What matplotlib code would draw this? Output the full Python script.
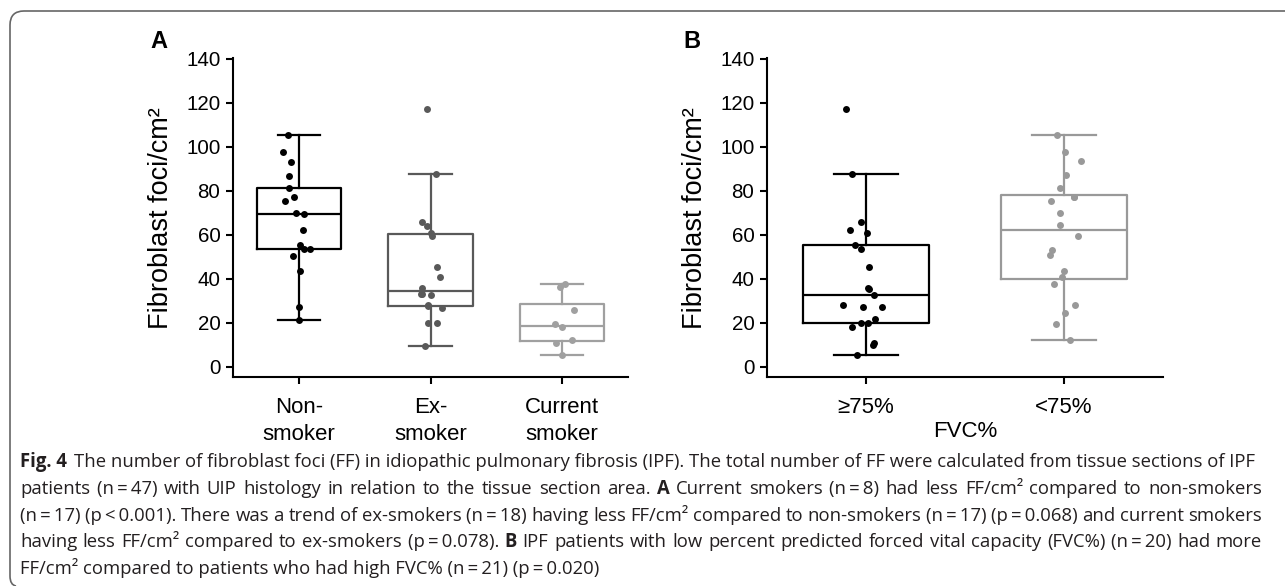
import numpy as np
import matplotlib.pyplot as plt
from matplotlib.path import Path
from matplotlib.patches import PathPatch

plt.rcParams['font.family'] = ['Liberation Sans', 'DejaVu Sans']

W, H = 1285, 586

# panel A: smoking status
smoking_labels = ['Non-\nsmoker', 'Ex-\nsmoker', 'Current\nsmoker']
non_smoker = [105.5, 97.7, 93.3, 87.0, 81.5, 75.6, 77.1, 70.0, 69.7, 62.4,
              55.3, 53.5, 53.8, 50.6, 43.8, 27.4, 21.5]
ex_smoker = [117.1, 87.6, 66.0, 64.2, 60.8, 59.5, 45.3, 40.8, 35.8, 33.0,
             32.6, 28.0, 27.0, 20.0, 20.2, 9.7, 27.5, 33.2]
current_smoker = [37.6, 36.2, 26.0, 19.5, 18.0, 10.9, 12.3, 5.3]

# panel B: FVC%
fvc_labels = ['≥75%', '<75%']
fvc_high = [117.1, 87.6, 66.0, 62.3, 61.0, 55.3, 53.5, 45.5, 36.0, 35.5,
            32.6, 28.0, 27.1, 27.4, 18.2, 20.1, 20.0, 21.7, 10.0, 11.0, 5.3]
fvc_low = [105.6, 97.7, 93.5, 87.1, 81.5, 77.1, 75.6, 69.8, 64.4, 59.7,
           53.2, 50.8, 43.8, 41.0, 37.6, 28.2, 24.7, 19.5, 12.3, 77.3]

# horizontal jitter of the dots
non_smoker_jit = [-0.079, -0.119, -0.056, -0.073, -0.073, -0.104, -0.033, -0.023, 0.038,
                  0.028, 0.008, 0.038, 0.084, -0.048, 0.008, 0.0, 0.0]
ex_smoker_jit = [-0.023, 0.041, -0.061, -0.028, 0.0, 0.01, 0.048, 0.074, -0.066, -0.071,
                 0.005, -0.02, 0.086, -0.02, 0.053, -0.041, -0.018, -0.068]
current_smoker_jit = [0.023, -0.018, 0.091, -0.056, -0.005, -0.048, 0.074, 0.0]
fvc_high_jit = [-0.101, -0.071, -0.024, -0.079, 0.003, -0.054, -0.025, 0.013, 0.008, 0.013,
                0.039, -0.116, -0.017, 0.081, -0.071, -0.025, 0.008, 0.045, 0.035, 0.042, -0.045]
fvc_low_jit = [-0.035, 0.007, 0.087, 0.012, -0.018, 0.049, -0.064, -0.022, -0.018, 0.072,
               -0.062, -0.072, -0.002, -0.012, -0.052, 0.054, 0.003, -0.039, 0.029, 0.049]

caption_lines = [
    [("Fig. 4", True), ("The number of fibroblast foci (FF) in idiopathic pulmonary fibrosis (IPF). "
                        "The total number of FF were calculated from tissue sections of IPF", False)],
    [("patients (n\u2009=\u200947) with UIP histology in relation to the tissue section area.", False),
     ("A", True), ("Current smokers (n\u2009=\u20098) had less FF/cm² compared to non-smokers", False)],
    [("(n\u2009=\u200917) (p\u2009<\u20090.001). There was a trend of ex-smokers (n\u2009=\u200918) having less "
      "FF/cm² compared to non-smokers (n\u2009=\u200917) (p\u2009=\u20090.068) and current smokers", False)],
    [("having less FF/cm² compared to ex-smokers (p\u2009=\u20090.078).", False), ("B", True),
     ("IPF patients with low percent predicted forced vital capacity (FVC%) (n\u2009=\u200920) had more", False)],
    [("FF/cm² compared to patients who had high FVC% (n\u2009=\u200921) (p\u2009=\u20090.020)", False)],
]


def box_panel(ax, groups, jitters, labels, colors):
    pos = np.arange(1, len(groups) + 1)
    bp = ax.boxplot(groups, positions=pos, widths=0.64, showfliers=False,
                    boxprops=dict(linewidth=1.6), medianprops=dict(linewidth=1.6),
                    whiskerprops=dict(linewidth=1.6), capprops=dict(linewidth=1.6))
    for i, c in enumerate(colors):
        bp['boxes'][i].set_color(c)
        bp['medians'][i].set_color(c)
        for k in (2 * i, 2 * i + 1):
            bp['whiskers'][k].set_color(c)
            bp['caps'][k].set_color(c)
        ax.scatter(pos[i] + np.array(jitters[i]), groups[i], s=25, color=c,
                   linewidths=0, zorder=3)
    ax.set_xlim(0.5, len(groups) + 0.5)
    ax.set_ylim(-4.7, 140.3)
    ax.set_yticks(range(0, 141, 20))
    ax.set_xticks(pos)
    ax.set_xticklabels(labels, fontsize=16, linespacing=1.4)
    ax.spines[['top', 'right']].set_visible(False)
    ax.spines[['left', 'bottom']].set_linewidth(1.5)
    ax.tick_params(axis='both', length=5, width=1.5, pad=4)
    ax.tick_params(axis='x', pad=9)
    ax.tick_params(axis='y', labelsize=14.8)
    ax.set_ylabel('Fibroblast foci/cm²', fontsize=19.5, labelpad=9)


fig = plt.figure(figsize=(W / 100, H / 100), dpi=100)
ax_a = fig.add_axes([233 / W, 1 - 377.3 / H, 395 / W, 319 / H])
ax_b = fig.add_axes([767 / W, 1 - 377.3 / H, 396 / W, 319 / H])

box_panel(ax_a, [non_smoker, ex_smoker, current_smoker],
          [non_smoker_jit, ex_smoker_jit, current_smoker_jit],
          smoking_labels, ['black', '#595959', '#a0a0a0'])
box_panel(ax_b, [fvc_high, fvc_low], [fvc_high_jit, fvc_low_jit],
          fvc_labels, ['black', '#999999'])
ax_b.set_xlabel('FVC%', fontsize=16, labelpad=2)

fig.text(150 / W, 1 - 48 / H, 'A', fontsize=17, fontweight='bold')
fig.text(683 / W, 1 - 48 / H, 'B', fontsize=17, fontweight='bold')

# frame around the figure (top and left only, rounded corners)
verts = [(W, 11), (24, 11), (10, 11), (10, 25), (10, 576), (10, 585), (16, 586)]
codes = [Path.MOVETO, Path.LINETO, Path.CURVE3, Path.CURVE3, Path.LINETO, Path.CURVE3, Path.CURVE3]
frame = Path([(x / W, 1 - y / H) for x, y in verts], codes)
fig.add_artist(PathPatch(frame, facecolor='none', edgecolor='#666666', lw=1.2,
                         transform=fig.transFigure))

# caption
cap_font = ['Open Sans', 'DejaVu Sans']
cap_color = '#231f20'
renderer = fig.canvas.get_renderer()
x0, x1 = 20, 1262


def width_of(txt, size, bold=False):
    t = fig.text(0, 2, txt, fontsize=size, family=cap_font,
                 fontweight='bold' if bold else 'normal')
    w = t.get_window_extent(renderer).width
    t.remove()
    return w


# font size from the first line, measured as whole strings
base = 10
gap0 = width_of('x x', base) - width_of('xx', base)
natural = sum(width_of(txt, base, b) for txt, b in caption_lines[0]) + gap0 * 1.6
size = base * (x1 - x0) / natural
sp = width_of('x x', size) - width_of('xx', size)

for k, pieces in enumerate(caption_lines):
    y = 1 - (467 + k * 26.8) / H
    if k in (0, len(caption_lines) - 1):
        # natural spacing
        x = x0
        for txt, bold in pieces:
            t = fig.text(x / W, y, txt, fontsize=size, family=cap_font, color=cap_color,
                         fontweight='bold' if bold else 'normal')
            x += t.get_window_extent(renderer).width + sp * (1.6 if bold else 1)
        continue
    # justified, word by word
    words = [(w, bold) for txt, bold in pieces for w in txt.split(' ')]
    widths = [width_of(w, size, b) for w, b in words]
    gap = (x1 - x0 - sum(widths)) / (len(words) - 1)
    x = x0
    for (w, bold), wd in zip(words, widths):
        fig.text(x / W, y, w, fontsize=size, family=cap_font, color=cap_color,
                 fontweight='bold' if bold else 'normal')
        x += wd + gap

fig.savefig('out.png', dpi=100)
